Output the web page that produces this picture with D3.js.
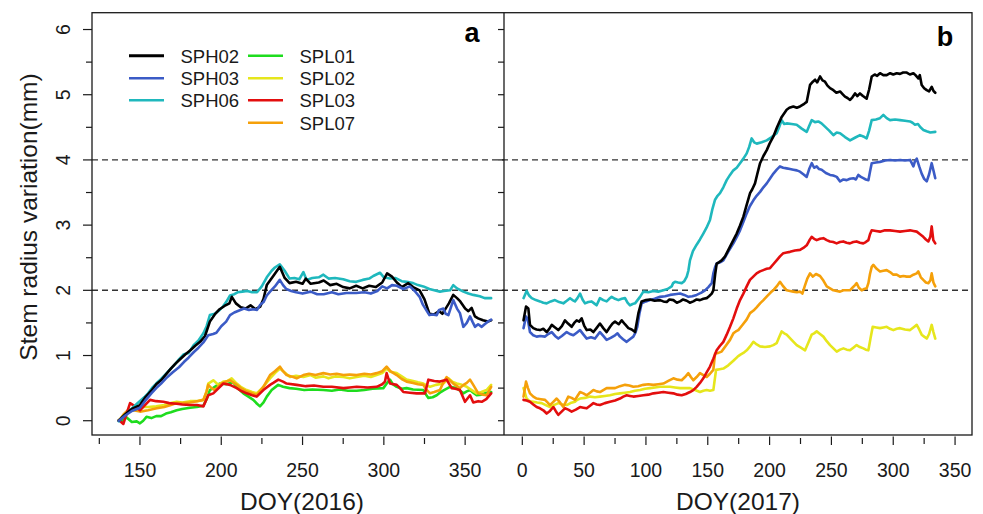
<!DOCTYPE html>
<html>
<head>
<meta charset="utf-8">
<script src="https://cdnjs.cloudflare.com/ajax/libs/d3/7.8.5/d3.min.js"></script>
<style>
  html, body { margin: 0; padding: 0; background: #fff; }
  svg { display: block; font-family: "Liberation Sans", Arial, sans-serif; }
</style>
</head>
<body>
<svg id="chart" width="983" height="514"></svg>
<script>
// Stem radius variation (mm) by day of year, 2016 season
const sph02_2016 = [[137,0],[141,0.10],[145,0.18],[150,0.24],[153,0.35],[157,0.46],[160,0.56],[163,0.62],[166,0.71],[169,0.80],[172,0.88],[175,0.95],[178,1.02],[181,1.08],[184,1.15],[187,1.21],[190,1.30],[193,1.52],[196,1.63],[199,1.71],[202,1.76],[205,1.80],[206.5,1.90],[209,1.80],[212,1.74],[215,1.72],[218,1.77],[221,1.71],[224,1.75],[226,1.87],[228,2.08],[232,2.22],[236,2.36],[239,2.19],[242,2.11],[246,2.13],[250,2.10],[252,2.18],[255,2.10],[260,2.12],[263,2.15],[267,2.08],[271,2.10],[275,2.05],[279,2.03],[283,2.07],[287,2.03],[291,2.07],[295,2.05],[299,2.12],[302,2.26],[305,2.21],[308,2.12],[311,2.05],[315,2.11],[318,2.05],[322,2.00],[325,1.86],[328,1.64],[331,1.63],[334,1.68],[336,1.64],[338,1.72],[340,1.80],[342.7,1.93],[345,1.88],[347,1.83],[350,1.72],[352,1.68],[354,1.73],[356,1.60],[358,1.57],[361,1.54],[364,1.52],[366,1.54]];
const sph03_2016 = [[137,0],[141,0.08],[145,0.15],[150,0.20],[153,0.30],[157,0.42],[160,0.50],[163,0.57],[166,0.65],[170,0.74],[174,0.82],[177,0.90],[180,0.97],[183,1.05],[186,1.12],[189,1.20],[192,1.31],[195,1.33],[197,1.35],[200,1.45],[203,1.52],[205.4,1.62],[208,1.66],[211,1.69],[214,1.72],[217,1.70],[220,1.71],[222,1.70],[224,1.78],[226,1.82],[228,1.92],[230,1.98],[233,2.06],[236,2.16],[238,2.08],[240,2.02],[243,1.99],[246,1.97],[250,1.95],[255,1.98],[259,1.94],[263,1.94],[268,1.97],[272,1.94],[277,1.96],[283,1.96],[288,1.97],[292,1.95],[296,1.99],[299,2.06],[302,2.03],[305,2.08],[308,2.07],[312,2.02],[316,2.06],[319,1.99],[322,1.90],[324,1.78],[326,1.70],[328,1.62],[330,1.63],[332.5,1.62],[334,1.70],[336.6,1.72],[338,1.64],[339.7,1.62],[341,1.72],[342.7,1.85],[345,1.72],[346.8,1.65],[348.9,1.44],[351,1.50],[353,1.60],[354.5,1.52],[356.1,1.44],[358,1.48],[360.2,1.44],[362,1.48],[364,1.52],[366,1.55]];
const sph06_2016 = [[137,-0.01],[139,0.05],[141.8,0.11],[144,0.16],[146,0.21],[149,0.28],[153,0.37],[155,0.42],[158,0.52],[160,0.57],[163,0.64],[166,0.72],[169,0.80],[172,0.88],[174,0.94],[177,1.02],[180,1.04],[183,1.16],[186,1.23],[189,1.34],[191,1.45],[193,1.62],[196,1.64],[199,1.70],[201,1.75],[203,1.82],[205.4,1.92],[208,1.94],[210,1.97],[213,1.98],[216,1.99],[219,1.97],[222,1.97],[224.9,2.06],[228,2.20],[231,2.30],[233,2.35],[236,2.40],[239,2.30],[242,2.18],[245,2.19],[248,2.17],[250.5,2.28],[252.5,2.16],[256,2.19],[260,2.20],[262.8,2.24],[266,2.18],[270,2.19],[275,2.17],[279,2.14],[283,2.13],[287,2.16],[291,2.18],[293.5,2.22],[297.6,2.27],[300,2.20],[303.8,2.18],[307,2.19],[311,2.14],[314,2.13],[318,2.11],[321,2.08],[324.3,2.06],[328,2.02],[331,2.00],[334.5,1.98],[337,1.99],[340.7,2.00],[342.7,2.08],[345,2.03],[348.9,1.98],[352,1.95],[355,1.93],[359,1.91],[362,1.88],[366,1.88]];
const spl01_2016 = [[137,0.01],[139,0.00],[141.8,0.05],[145,-0.02],[148,-0.01],[150,-0.04],[152,0.00],[154,0.06],[157,0.04],[160,0.07],[163,0.07],[166,0.11],[169,0.13],[172.6,0.16],[176,0.18],[180.8,0.20],[185,0.21],[189,0.23],[191,0.33],[193,0.47],[196,0.52],[199,0.57],[203,0.56],[207.4,0.59],[210,0.50],[213.6,0.42],[216,0.38],[219.7,0.32],[222,0.26],[223.8,0.22],[226,0.28],[228,0.37],[231,0.47],[235,0.55],[238,0.52],[242,0.50],[246,0.49],[251,0.47],[256,0.48],[262.8,0.47],[268,0.46],[273,0.48],[278,0.46],[283.3,0.46],[288,0.47],[293,0.49],[299.7,0.50],[302,0.58],[303.8,0.63],[305.5,0.56],[307.9,0.52],[311,0.49],[314,0.50],[318,0.48],[324.3,0.47],[326,0.40],[327.4,0.35],[330,0.36],[332.5,0.39],[335,0.44],[337,0.47],[340.7,0.52],[344.8,0.50],[348.9,0.42],[351,0.45],[353,0.47],[355,0.43],[357.1,0.39],[360,0.40],[363,0.43],[366,0.44]];
const spl02_2016 = [[137,0],[140,0.08],[143.9,0.14],[147,0.18],[150,0.21],[155,0.21],[160,0.22],[165,0.24],[169,0.27],[172.6,0.29],[176,0.28],[180.8,0.30],[185,0.30],[189,0.32],[191,0.45],[192,0.57],[195.1,0.62],[198.2,0.55],[201.3,0.60],[204,0.61],[206.4,0.65],[209.5,0.57],[212,0.52],[215.6,0.47],[219,0.44],[221.8,0.42],[225.9,0.52],[230,0.65],[233,0.73],[236.1,0.80],[239,0.74],[242.3,0.67],[246,0.69],[250.5,0.67],[255,0.70],[258,0.66],[262.8,0.68],[266,0.65],[270,0.68],[275.1,0.67],[279,0.65],[283.3,0.67],[288,0.69],[292,0.67],[295.6,0.70],[299,0.73],[301.7,0.80],[304,0.75],[307.9,0.73],[311,0.68],[314,0.63],[318,0.61],[321,0.59],[324.3,0.57],[328.4,0.52],[332,0.55],[336.6,0.57],[339.7,0.65],[342,0.60],[344.8,0.57],[348,0.55],[351,0.52],[354,0.47],[357.1,0.42],[360,0.44],[363.2,0.47],[366,0.55]];
const spl03_2016 = [[137,0.01],[139.8,-0.05],[141.8,0.11],[143.9,0.27],[147,0.22],[150,0.16],[153.1,0.24],[156.2,0.32],[160,0.30],[164.4,0.29],[168,0.27],[172.6,0.26],[176,0.25],[180.8,0.24],[185,0.24],[189,0.22],[192,0.39],[195.1,0.42],[199.2,0.52],[201.3,0.57],[205.4,0.55],[209.5,0.50],[212,0.46],[215.6,0.42],[219,0.39],[221.8,0.37],[225.9,0.47],[230,0.55],[232,0.58],[235.1,0.63],[238,0.60],[240.2,0.57],[246.4,0.55],[252,0.53],[257,0.54],[262.8,0.52],[268,0.52],[275.1,0.50],[279,0.51],[283.3,0.52],[290,0.51],[295.6,0.52],[299,0.56],[300.7,0.60],[301.7,0.73],[303.8,0.57],[307.9,0.55],[310,0.50],[312,0.44],[316,0.43],[320.2,0.42],[325.3,0.42],[327.4,0.63],[331,0.61],[334.5,0.60],[338.6,0.63],[341.7,0.50],[344,0.49],[346.8,0.47],[349.9,0.29],[353,0.39],[355,0.28],[358,0.30],[360.2,0.29],[363,0.33],[366,0.42]];
const spl07_2016 = [[137,0],[140,0.10],[142.9,0.17],[146,0.16],[150,0.14],[155,0.16],[160.3,0.19],[165,0.21],[169,0.24],[172.6,0.27],[176,0.27],[180.8,0.28],[185,0.30],[189,0.32],[191,0.45],[192,0.55],[194,0.50],[196,0.47],[198,0.52],[200.2,0.57],[203,0.60],[205.4,0.62],[209.5,0.55],[212,0.50],[215.6,0.45],[219,0.42],[221.8,0.39],[225.9,0.52],[230,0.70],[233,0.76],[236.1,0.83],[238,0.76],[240.2,0.70],[243,0.68],[246.4,0.65],[250.5,0.70],[254,0.72],[258,0.70],[262.8,0.73],[267,0.71],[271,0.72],[275.1,0.70],[279,0.71],[283.3,0.70],[288,0.72],[292,0.71],[295.6,0.73],[299,0.76],[301.7,0.83],[304,0.76],[307.9,0.70],[311,0.64],[314,0.60],[318,0.58],[321,0.56],[324.3,0.55],[326,0.48],[328.4,0.42],[331,0.44],[334.5,0.47],[336.5,0.58],[338.6,0.67],[340.5,0.62],[342.7,0.57],[346.8,0.50],[349,0.55],[351,0.58],[353,0.63],[355,0.55],[358.1,0.42],[361,0.40],[363.2,0.39],[366,0.52]];

// Same variable for the 2017 season (no SPL01 record)
const sph02_2017 = [[1,1.54],[3,1.75],[4.9,1.72],[6.2,1.47],[8.9,1.42],[11.5,1.40],[14.3,1.39],[17,1.41],[19.7,1.36],[21.5,1.40],[23.8,1.47],[26.5,1.43],[29.1,1.39],[32,1.45],[34.5,1.54],[37,1.49],[39.9,1.44],[42,1.50],[44,1.54],[46,1.52],[48,1.57],[50,1.46],[52.1,1.39],[55,1.40],[57.5,1.36],[60,1.42],[62.8,1.49],[65.5,1.42],[68.2,1.36],[71,1.44],[73,1.49],[75,1.52],[78,1.48],[80.4,1.54],[83,1.48],[85.8,1.42],[88.5,1.40],[91.2,1.36],[93.9,1.65],[96.5,1.83],[100,1.85],[103.3,1.86],[107,1.84],[111.4,1.85],[114,1.83],[116.8,1.82],[119,1.86],[122.2,1.85],[125,1.81],[127.6,1.83],[130,1.86],[133,1.84],[135.5,1.81],[138.3,1.83],[141,1.86],[143.7,1.85],[146.5,1.87],[149.1,1.88],[151,1.91],[153.2,1.95],[154.5,2.00],[156,2.25],[157.2,2.41],[159,2.43],[161.2,2.46],[164,2.52],[168,2.67],[171,2.78],[173.4,2.87],[176,2.99],[178.8,3.13],[181,3.28],[184.2,3.49],[186,3.55],[188.2,3.64],[190,3.78],[192.3,3.95],[195,4.06],[197.7,4.15],[200,4.25],[203.1,4.36],[206,4.50],[209.8,4.66],[213.8,4.77],[216,4.80],[219.2,4.82],[222,4.80],[224.6,4.82],[228,4.86],[230,4.89],[232.7,5.15],[235,5.20],[236.8,5.23],[238.5,5.19],[240.8,5.28],[242.8,5.22],[244.8,5.20],[246.8,5.14],[248.9,5.10],[251.6,5.07],[254,5.03],[257,5.05],[259,5.01],[261,4.97],[263,4.95],[265.1,4.92],[267,4.96],[269.1,5.02],[271,4.98],[273.1,5.02],[275.5,4.98],[278.5,4.94],[280.5,5.08],[282.6,5.28],[285,5.31],[287,5.29],[289.3,5.33],[292,5.30],[294.7,5.30],[297.5,5.33],[300,5.31],[302.8,5.33],[305.5,5.32],[308,5.34],[310.9,5.34],[313.5,5.31],[316.3,5.33],[318,5.30],[320.3,5.25],[321.5,5.30],[323,5.15],[325,5.10],[327.1,5.07],[329,5.05],[331.1,5.12],[332.5,5.06],[334,5.03]];
const sph03_2017 = [[1,1.42],[3,1.60],[4.5,1.55],[6.2,1.36],[8.9,1.31],[11.6,1.29],[14.5,1.30],[18.4,1.29],[21,1.33],[23.8,1.36],[26.5,1.30],[29.1,1.26],[32,1.30],[35.9,1.36],[38.5,1.33],[41.3,1.31],[44,1.35],[46.7,1.39],[49.5,1.32],[52.1,1.26],[55.5,1.28],[58.8,1.26],[60.8,1.31],[62.8,1.36],[65.5,1.30],[68.2,1.24],[71.5,1.27],[75,1.31],[77,1.34],[79,1.29],[81.5,1.25],[84.4,1.21],[87,1.25],[89.8,1.29],[91.5,1.35],[93,1.44],[94.8,1.65],[96.5,1.80],[100,1.83],[103.3,1.85],[107,1.87],[111.4,1.90],[115.5,1.91],[119.5,1.93],[123.5,1.94],[127.6,1.95],[131,1.93],[134.3,1.90],[137.5,1.91],[141,1.93],[144.5,1.96],[147.8,2.00],[150.5,2.05],[153.2,2.11],[154.5,2.26],[156,2.36],[157.2,2.41],[160,2.43],[162.6,2.46],[166.5,2.59],[170.7,2.72],[173.5,2.82],[176.1,2.92],[179,3.06],[181.5,3.18],[184,3.29],[186.9,3.38],[189.5,3.45],[192.3,3.51],[195,3.58],[197.7,3.64],[200.5,3.72],[203.1,3.79],[205.8,3.85],[208.4,3.90],[211,3.88],[213.8,3.87],[216.5,3.86],[219.2,3.85],[222,3.84],[224.6,3.82],[227.3,3.78],[230,3.74],[232,3.86],[234.1,3.95],[236,3.88],[238.1,3.90],[240,3.86],[242.1,3.85],[245.5,3.80],[248.9,3.77],[251.5,3.76],[254.3,3.74],[257,3.67],[259.7,3.70],[262.4,3.69],[265,3.71],[267.8,3.72],[269.8,3.70],[271.8,3.77],[273.8,3.74],[275.8,3.72],[277.8,3.70],[279.9,3.69],[281.2,3.82],[282.6,3.95],[286,3.96],[289.3,3.97],[293.5,3.99],[297.4,4.00],[301.5,3.99],[305.5,4.00],[309.5,3.99],[313.6,4.00],[315,3.95],[316.3,3.90],[317.6,3.98],[319,4.02],[321,3.90],[323,3.79],[325,3.71],[327.1,3.67],[329,3.78],[331.1,3.95],[332.5,3.84],[334,3.72]];
const sph06_2017 = [[1,1.88],[3.5,1.99],[5.5,1.92],[7.6,1.88],[11,1.85],[14.3,1.83],[17,1.81],[19.7,1.80],[23,1.83],[26.4,1.85],[29.8,1.82],[33.2,1.80],[36,1.84],[38.6,1.88],[40.6,1.85],[42.6,1.83],[44.6,1.88],[46.7,1.95],[48.7,1.86],[50.7,1.80],[53.4,1.82],[56.1,1.83],[58.1,1.80],[60.1,1.77],[62.8,1.88],[65.5,1.85],[68.2,1.83],[70.3,1.87],[72.3,1.90],[75,1.87],[77.7,1.85],[80.4,1.87],[83.1,1.88],[85.1,1.81],[87.1,1.77],[89.2,1.79],[91.2,1.80],[93.2,1.85],[95.2,1.90],[97.9,1.98],[102,1.97],[106,1.99],[110,1.98],[114.1,2.00],[117.5,2.02],[120.8,2.06],[122,2.11],[123.5,2.13],[126,2.12],[128.9,2.11],[131,2.14],[133,2.21],[134.3,2.30],[135.6,2.46],[138,2.60],[141,2.70],[143.7,2.78],[146.4,2.87],[149,2.96],[151.8,3.08],[153.8,3.25],[155.9,3.39],[157.9,3.45],[159.9,3.49],[162.6,3.58],[165.3,3.69],[168,3.77],[170.7,3.84],[173.4,3.88],[176.1,3.95],[178.8,4.02],[181.5,4.10],[183.5,4.20],[185.5,4.33],[187.5,4.27],[189.6,4.25],[193.6,4.27],[197.7,4.30],[201.7,4.35],[205.7,4.41],[207.7,4.50],[209.8,4.61],[211.8,4.55],[213.8,4.56],[217.8,4.55],[221.9,4.54],[226,4.48],[230,4.43],[232,4.52],[234.1,4.61],[236.7,4.58],[239.4,4.59],[242,4.56],[244.8,4.51],[248.2,4.45],[251.6,4.38],[254.3,4.42],[257,4.41],[261,4.35],[265.1,4.30],[269,4.34],[273.1,4.38],[275.8,4.36],[278.5,4.33],[280.5,4.45],[282.6,4.61],[286,4.62],[289.3,4.64],[292,4.69],[294.7,4.64],[297.4,4.61],[301.5,4.62],[305.5,4.61],[309.5,4.60],[313.6,4.59],[315.6,4.57],[317.6,4.54],[320,4.55],[322,4.50],[324.4,4.46],[327,4.44],[330,4.42],[334,4.43]];
const spl02_2017 = [[1,0.50],[3.5,0.34],[6,0.30],[8.9,0.29],[12,0.28],[15.7,0.27],[19,0.24],[22.4,0.21],[25.5,0.24],[29.1,0.27],[32.5,0.25],[35.9,0.24],[39,0.27],[42.6,0.29],[44.5,0.32],[46.7,0.34],[50.7,0.35],[54.8,0.37],[58.8,0.36],[62.8,0.37],[66.8,0.38],[70.9,0.39],[75,0.41],[79,0.42],[83,0.43],[87.1,0.44],[91.2,0.46],[95.2,0.47],[99.3,0.49],[103.3,0.50],[107.3,0.51],[111.4,0.52],[115.5,0.52],[119.5,0.52],[123.5,0.51],[127.6,0.50],[131.6,0.50],[135.6,0.50],[139.7,0.47],[143.7,0.44],[146.4,0.46],[149.1,0.47],[151.8,0.46],[154.5,0.47],[156.7,0.78],[159.6,0.79],[162.6,0.80],[166.6,0.85],[170.7,0.92],[174,0.98],[176.1,1.01],[178.8,1.04],[181.5,1.08],[184.2,1.14],[186.9,1.21],[189.6,1.17],[192.3,1.14],[196.3,1.13],[200.3,1.14],[203,1.16],[205.7,1.19],[207.7,1.28],[209.8,1.37],[211.8,1.34],[213.8,1.32],[217.8,1.24],[221.9,1.16],[225.3,1.12],[228.7,1.08],[231.4,1.20],[234,1.32],[236,1.34],[238.1,1.37],[240.8,1.33],[243.5,1.29],[246.2,1.22],[248.9,1.16],[251.6,1.11],[254.3,1.06],[257,1.09],[259.7,1.11],[262.4,1.09],[265,1.08],[267.7,1.12],[270.4,1.16],[273,1.13],[275.8,1.11],[277.8,1.09],[279.9,1.08],[281.6,1.26],[283.4,1.44],[286.3,1.43],[289.3,1.42],[292,1.43],[294.7,1.44],[297.4,1.41],[300.1,1.39],[302.8,1.41],[305.5,1.42],[309.5,1.40],[313.6,1.39],[316.3,1.43],[319,1.47],[321,1.40],[323,1.32],[325,1.29],[327.1,1.26],[329,1.33],[331.1,1.47],[332.5,1.36],[334,1.26]];
const spl03_2017 = [[1,0.32],[3.5,0.31],[6.2,0.29],[8.9,0.25],[11.6,0.21],[14.3,0.19],[17,0.16],[19.7,0.11],[22.4,0.15],[25.1,0.21],[27,0.15],[29.1,0.09],[31.8,0.14],[34.5,0.19],[37.2,0.17],[39.9,0.14],[43.3,0.17],[46.7,0.21],[49.4,0.20],[52.1,0.19],[54.8,0.23],[57.5,0.27],[60.2,0.25],[62.8,0.24],[66.8,0.27],[70.9,0.29],[75,0.31],[79,0.34],[81.7,0.37],[84.4,0.39],[87.1,0.38],[89.8,0.37],[93.8,0.38],[97.9,0.39],[102,0.40],[106,0.42],[110,0.43],[114.1,0.44],[118.1,0.43],[122.2,0.42],[125.5,0.40],[128.9,0.39],[132.2,0.41],[135.6,0.44],[138.3,0.47],[141,0.52],[143.7,0.58],[146.4,0.65],[149.1,0.74],[151.8,0.83],[154.5,0.95],[157.2,1.08],[159.9,1.15],[162.6,1.21],[165.3,1.32],[168,1.44],[170.7,1.57],[173.4,1.72],[176.1,1.85],[178.8,1.95],[181.5,2.06],[184.1,2.16],[186.8,2.21],[189.5,2.26],[192.2,2.29],[194.9,2.31],[197.6,2.33],[200.3,2.34],[203,2.40],[205.7,2.46],[208.4,2.52],[211.1,2.57],[213.8,2.58],[216.5,2.59],[220.5,2.61],[224.6,2.62],[227.3,2.65],[230,2.69],[232,2.76],[234,2.82],[236,2.79],[238.1,2.77],[240.8,2.79],[243.5,2.80],[246.2,2.77],[248.8,2.75],[251.5,2.74],[254.2,2.72],[256.9,2.74],[259.6,2.75],[262.3,2.73],[265,2.72],[267.7,2.74],[270.4,2.75],[273.1,2.73],[275.8,2.72],[277.8,2.74],[279.9,2.77],[281.2,2.86],[282.6,2.92],[286,2.91],[289.3,2.90],[293.3,2.92],[297.4,2.92],[301.5,2.91],[305.5,2.90],[309.5,2.91],[313.6,2.92],[316.3,2.91],[319,2.90],[321.7,2.86],[324.3,2.82],[326.4,2.78],[328.4,2.75],[330,2.82],[331.1,2.98],[332.4,2.77],[334,2.72]];
const spl07_2017 = [[1,0.37],[3,0.60],[4.6,0.50],[6.2,0.42],[8.9,0.37],[11.6,0.34],[15,0.33],[18.4,0.32],[20.4,0.28],[22.4,0.24],[25.1,0.29],[27.8,0.34],[30.5,0.28],[33.2,0.21],[35.2,0.29],[37.2,0.37],[39.9,0.35],[42.6,0.32],[44.6,0.38],[46.7,0.44],[49.4,0.42],[52.1,0.39],[54.8,0.43],[57.5,0.47],[60.2,0.45],[62.8,0.44],[65.5,0.47],[68.2,0.50],[71.6,0.50],[75,0.50],[79,0.53],[83.1,0.55],[86.5,0.54],[89.8,0.52],[93.8,0.53],[97.9,0.55],[102,0.56],[106,0.55],[110,0.56],[114.1,0.57],[118.1,0.61],[122.2,0.65],[125.5,0.63],[128.9,0.62],[131.6,0.67],[134.3,0.73],[136.3,0.67],[138.3,0.62],[141,0.67],[143.7,0.73],[146.4,0.70],[149.1,0.67],[151.8,0.72],[154.5,0.78],[155.9,1.03],[158.5,1.04],[161.2,1.06],[164.6,1.15],[168,1.24],[170.7,1.34],[172.7,1.37],[174.7,1.39],[177.7,1.46],[181.4,1.55],[184.2,1.65],[187,1.69],[189.5,1.74],[192.3,1.80],[195,1.85],[198,1.91],[201,1.97],[203.4,2.01],[205.7,2.06],[208.4,2.13],[211.1,2.06],[213.8,2.00],[216.5,1.99],[219.2,1.98],[222,1.97],[224.6,1.98],[226.5,1.95],[228.7,2.08],[230.5,2.18],[232.7,2.26],[235,2.21],[237.5,2.25],[240.8,2.22],[243.5,2.15],[246.2,2.06],[248.9,2.03],[251.6,2.00],[254.3,1.99],[257,1.98],[259.7,2.00],[262.4,2.00],[265,2.00],[267,2.04],[269.1,2.08],[270.4,2.11],[272.2,2.04],[274.5,2.00],[276.5,2.02],[278.5,2.03],[279.9,2.11],[281.2,2.25],[282.6,2.36],[283.9,2.39],[286.6,2.33],[289.3,2.29],[292,2.30],[294.7,2.31],[297.4,2.28],[300.1,2.24],[302.8,2.24],[305.5,2.21],[308.2,2.22],[310.9,2.21],[313.6,2.21],[316.3,2.24],[319,2.26],[320.3,2.29],[322.3,2.20],[324.3,2.16],[326.4,2.12],[328.4,2.11],[330,2.15],[331.1,2.26],[332.5,2.12],[334,2.06]];

const seriesNames = ["SPH02", "SPH03", "SPH06", "SPL01", "SPL02", "SPL03", "SPL07"];
const seriesColors = ["#000000", "#3b5bc6", "#1fb8bd", "#1edc1e", "#e6e61c", "#e30e0e", "#f5a00a"];

const data2016 = [sph02_2016, sph03_2016, sph06_2016, spl01_2016, spl02_2016, spl03_2016, spl07_2016];
const data2017 = [sph02_2017, sph03_2017, sph06_2017, null, spl02_2017, spl03_2017, spl07_2017];
// drawing order: lower group first, so the upper group sits on top
const drawOrder2016 = [3, 4, 6, 5, 2, 0, 1];
const drawOrder2017 = [4, 6, 5, 2, 1, 0];

const yTicks = [0, 1, 2, 3, 4, 5, 6];
const yMinorTicks = [0.5, 1.5, 2.5, 3.5, 4.5, 5.5];
const refLevels = [2, 4];
const xTicks2016 = [150, 200, 250, 300, 350];
const xMinorTicks2016 = [125, 175, 225, 275, 325];
const xTicks2017 = [0, 50, 100, 150, 200, 250, 300, 350];
const xMinorTicks2017 = [25, 75, 125, 175, 225, 275, 325];

const svg = d3.select("#chart");
const plotTop = 12.7, plotBottom = 435;
const aLeft = 92, mid = 504, bRight = 972;

const y = d3.scaleLinear().domain([-0.219, 6.258]).range([plotBottom, plotTop]);
const xa = d3.scaleLinear().domain([120.5, 373.9]).range([aLeft, mid]);
const xb = d3.scaleLinear().domain([-14.8, 363.7]).range([mid, bRight]);

const ink = "#1a1a1a";

// dashed reference levels across both panels
svg.append("g").selectAll("line").data(refLevels).join("line")
  .attr("x1", aLeft).attr("x2", bRight)
  .attr("y1", d => y(d)).attr("y2", d => y(d))
  .attr("stroke", "#333").attr("stroke-width", 1.4)
  .attr("stroke-dasharray", "6,4");

function drawLines(x, sets, order) {
  const line = d3.line().x(d => x(d[0])).y(d => y(d[1])).curve(d3.curveLinear);
  const g = svg.append("g");
  order.forEach(i => {
    if (!sets[i]) return;
    g.append("path").datum(sets[i])
      .attr("d", line)
      .attr("fill", "none")
      .attr("stroke", seriesColors[i])
      .attr("stroke-width", 2.6)
      .attr("stroke-linejoin", "round")
      .attr("stroke-linecap", "round");
  });
}
drawLines(xa, data2016, drawOrder2016);
drawLines(xb, data2017, drawOrder2017);

// frames
const frame = svg.append("g").attr("fill", "none").attr("stroke", ink).attr("stroke-width", 1.3);
frame.append("rect").attr("x", aLeft).attr("y", plotTop).attr("width", bRight - aLeft).attr("height", plotBottom - plotTop);
frame.append("line").attr("x1", mid).attr("x2", mid).attr("y1", plotTop).attr("y2", plotBottom);

// left y axis (panel a)
const yAxis = svg.append("g").attr("stroke", ink).attr("stroke-width", 1.2);
yAxis.selectAll("line.maj").data(yTicks).join("line").attr("class", "maj")
  .attr("x1", aLeft - 9).attr("x2", aLeft).attr("y1", d => y(d)).attr("y2", d => y(d));
yAxis.selectAll("line.min").data(yMinorTicks).join("line").attr("class", "min")
  .attr("x1", aLeft - 6).attr("x2", aLeft).attr("y1", d => y(d)).attr("y2", d => y(d));
svg.append("g").selectAll("text").data(yTicks).join("text")
  .attr("transform", d => `translate(70,${y(d)}) rotate(-90)`)
  .attr("text-anchor", "middle")
  .attr("font-size", 19.5).attr("fill", ink)
  .text(d => d);

// panel b y ticks on the shared divider, pointing left
svg.append("g").attr("stroke", ink).attr("stroke-width", 1.2)
  .selectAll("line").data(yTicks.concat(yMinorTicks)).join("line")
  .attr("x1", mid - 6).attr("x2", mid).attr("y1", d => y(d)).attr("y2", d => y(d));

function xAxis(x, major, minor) {
  const g = svg.append("g").attr("stroke", ink).attr("stroke-width", 1.2);
  g.selectAll("line.maj").data(major).join("line").attr("class", "maj")
    .attr("x1", d => x(d)).attr("x2", d => x(d)).attr("y1", plotBottom + 1.5).attr("y2", plotBottom + 10);
  g.selectAll("line.min").data(minor).join("line").attr("class", "min")
    .attr("x1", d => x(d)).attr("x2", d => x(d)).attr("y1", plotBottom + 3).attr("y2", plotBottom + 9);
  svg.append("g").selectAll("text").data(major).join("text")
    .attr("x", d => x(d)).attr("y", 477)
    .attr("text-anchor", "middle")
    .attr("font-size", 19.5).attr("fill", ink)
    .text(d => d);
}
xAxis(xa, xTicks2016, xMinorTicks2016);
xAxis(xb, xTicks2017, xMinorTicks2017);

// axis titles
svg.append("text").attr("x", 302).attr("y", 510).attr("text-anchor", "middle")
  .attr("font-size", 24.5).attr("fill", ink).text("DOY(2016)");
svg.append("text").attr("x", 738).attr("y", 510).attr("text-anchor", "middle")
  .attr("font-size", 24.5).attr("fill", ink).text("DOY(2017)");
svg.append("text").attr("transform", "translate(37,217) rotate(-90)")
  .attr("text-anchor", "middle").attr("font-size", 24.5).attr("fill", ink)
  .text("Stem radius variation(mm)");

// panel letters
svg.append("text").attr("x", 472).attr("y", 42).attr("text-anchor", "middle")
  .attr("font-size", 27).attr("font-weight", "bold").attr("fill", "#000").text("a");
svg.append("text").attr("x", 945).attr("y", 46).attr("text-anchor", "middle")
  .attr("font-size", 27).attr("font-weight", "bold").attr("fill", "#000").text("b");

// legend: two columns
const legendRows = [55.7, 78.3, 100.3, 122.7];
const legend = svg.append("g");
seriesNames.forEach((name, i) => {
  const col = i < 3 ? 0 : 1;
  const row = i < 3 ? i : i - 3;
  const lx = col === 0 ? 129 : 248;
  const ly = legendRows[row];
  legend.append("line")
    .attr("x1", lx).attr("x2", lx + 35).attr("y1", ly).attr("y2", ly)
    .attr("stroke", seriesColors[i]).attr("stroke-width", i === 0 ? 3 : 2.6);
  legend.append("text")
    .attr("x", lx + 51.5).attr("y", ly + 6.8)
    .attr("font-size", 18.5).attr("fill", ink)
    .text(name);
});
</script>
</body>
</html>
